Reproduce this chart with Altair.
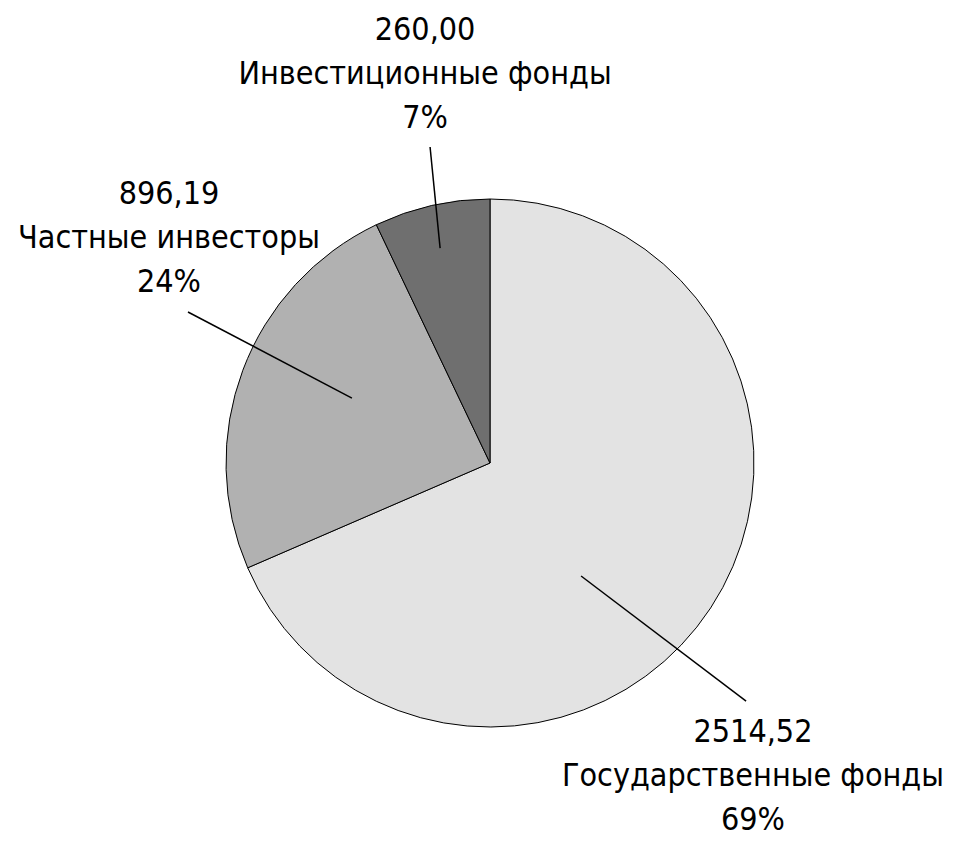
import altair as alt
import pandas as pd

categories = ["Государственные фонды", "Частные инвесторы", "Инвестиционные фонды"]
values = [2514.52, 896.19, 260.00]
colors = ["#e3e3e3", "#b1b1b1", "#6f6f6f"]

# leader lines in pie-radius units (centre = 0,0; y up)
line_x0 = [0.345, -0.523, -0.189]
line_y0 = [-0.428, 0.246, 0.814]
line_x1 = [0.970, -1.144, -0.227]
line_y1 = [-0.902, 0.572, 1.197]

# label anchors (first line) in pie-radius units
label_x = [0.996, -1.216, -0.246]
label_y = [-1.019, 1.019, 1.640]

total = sum(values)
labels = [
    f"{v:.2f}".replace(".", ",") + "\n" + c + "\n" + f"{round(v / total * 100)}%"
    for c, v in zip(categories, values)
]

pie_df = pd.DataFrame({"cat": categories, "value": values, "ord": [0, 1, 2],
                       "cx": [0.0] * 3, "cy": [0.0] * 3})
line_df = pd.DataFrame({"x0": line_x0, "y0": line_y0, "x1": line_x1, "y1": line_y1})
text_df = pd.DataFrame({"tx": label_x, "ty": label_y, "label": labels})

W, H = 964, 835
CX, CY, R = 482, 455, 264
xs = alt.Scale(domain=[-CX / R, (W - CX) / R], nice=False, zero=False)
ys = alt.Scale(domain=[-(H - CY) / R, CY / R], nice=False, zero=False)

FONT = "DejaVu Sans Condensed"

pie = alt.Chart(pie_df).mark_arc(outerRadius=R, stroke="black", strokeWidth=1).encode(
    theta=alt.Theta("value:Q", stack=True),
    order=alt.Order("ord:Q"),
    color=alt.Color("cat:N", scale=alt.Scale(domain=categories, range=colors), legend=None),
    x=alt.X("cx:Q", scale=xs, axis=None),
    y=alt.Y("cy:Q", scale=ys, axis=None),
)

rules = alt.Chart(line_df).mark_rule(color="black", strokeWidth=1.5).encode(
    x=alt.X("x0:Q", scale=xs, axis=None),
    y=alt.Y("y0:Q", scale=ys, axis=None),
    x2="x1:Q",
    y2="y1:Q",
)

text = alt.Chart(text_df).mark_text(
    font=FONT, fontSize=32, lineHeight=44, align="center", baseline="middle",
    lineBreak="\n", color="black",
).encode(
    x=alt.X("tx:Q", scale=xs, axis=None),
    y=alt.Y("ty:Q", scale=ys, axis=None),
    text="label:N",
)

chart = alt.layer(pie, rules, text).properties(
    width=W, height=H, padding=0
).configure_view(stroke=None)

chart.save("out.html", embed_options={"renderer": "svg", "actions": False})
